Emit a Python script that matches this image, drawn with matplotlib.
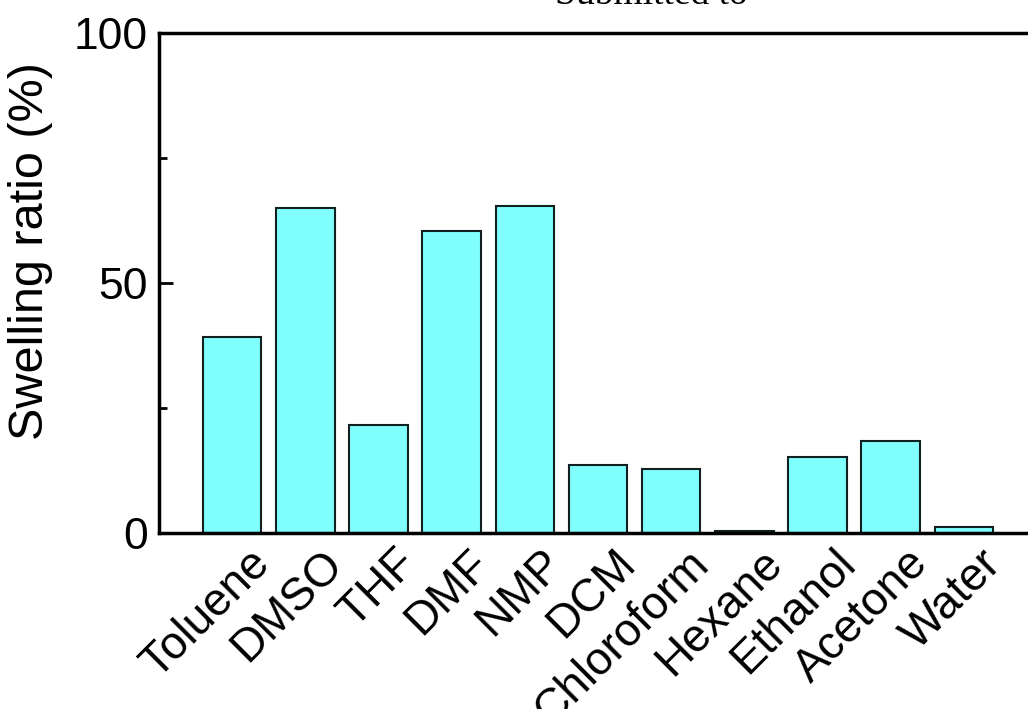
import matplotlib.pyplot as plt
import numpy as np

plt.rcParams['font.family'] = ['Liberation Sans', 'DejaVu Sans']

# solvents and swelling ratios (%)
solvents = ['Toluene', 'DMSO', 'THF', 'DMF', 'NMP', 'DCM', 'Chloroform',
            'Hexane', 'Ethanol', 'Acetone', 'Water']
swelling = [39.2, 65.0, 21.6, 60.4, 65.4, 13.6, 12.8, 0.4, 15.2, 18.4, 1.2]

fig = plt.figure(figsize=(10.28, 7.09), dpi=100)
# axes runs past the right edge of the figure, like in the original
ax = fig.add_axes([159 / 1028, 1 - 533 / 709, 878 / 1028, 500 / 709])

pos = np.arange(1, len(solvents) + 1)
ax.bar(pos, swelling, width=0.8, color='#80ffff', edgecolor='#102020',
       linewidth=1.5)

ax.set_xlim(0, 12)
ax.set_ylim(0, 100)
ax.set_yticks([0, 50, 100])
ax.set_yticks([25, 75], minor=True)
ax.set_xticks([])
# rotated category labels, shifted to the right of the bar centres
for p, name in zip(pos, solvents):
    ax.annotate(name, xy=(p, 0), xycoords=('data', 'axes fraction'),
                xytext=(11, -6), textcoords='offset points', rotation=45,
                ha='right', va='top', rotation_mode='anchor', fontsize=33,
                annotation_clip=False)
ax.tick_params(axis='y', which='major', direction='in', length=10, width=2,
               labelsize=32, pad=8)
ax.tick_params(axis='y', which='minor', direction='in', length=6, width=2)
ax.set_ylabel('Swelling ratio (%)', fontsize=35)
ax.yaxis.set_label_coords(-0.121, 0.564)

for s in ax.spines.values():
    s.set_linewidth(2.5)

# header text of the submitted manuscript, cut by the top edge
fig.text(0.54, 1.008, 'Submitted to', family='Liberation Serif', fontsize=27,
         va='center')

fig.savefig('out.png', dpi=100)
